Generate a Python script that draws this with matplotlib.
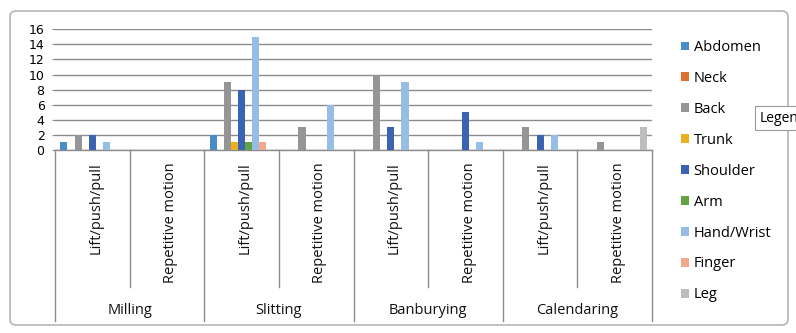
import numpy as np
import matplotlib
matplotlib.use('Agg')
import matplotlib.pyplot as plt
from matplotlib.patches import FancyBboxPatch
import matplotlib.transforms as mtransforms

plt.rcParams.update({'font.family': 'Open Sans', 'font.size': 10.5})

groups = ['Milling', 'Slitting', 'Banburying', 'Calendaring']
tasks = ['Lift/push/pull', 'Repetitive motion']

parts = ['Abdomen', 'Neck', 'Back', 'Trunk', 'Shoulder', 'Arm',
         'Hand/Wrist', 'Finger', 'Leg']
# one value per (group, task) in order: Milling L/R, Slitting L/R, Banbury L/R, Calend L/R
abdomen = [1, 0, 2, 0, 0, 0, 0, 0]
neck = [0, 0, 0, 0, 0, 0, 0, 0]
back = [2, 0, 9, 3, 10, 0, 3, 1]
trunk = [0, 0, 1, 0, 0, 0, 0, 0]
shoulder = [2, 0, 8, 0, 3, 5, 2, 0]
arm = [0, 0, 1, 0, 0, 0, 0, 0]
hand_wrist = [1, 0, 15, 6, 9, 1, 2, 0]
finger = [0, 0, 1, 0, 0, 0, 0, 0]
leg = [0, 0, 0, 0, 0, 0, 0, 3]
series = [abdomen, neck, back, trunk, shoulder, arm, hand_wrist, finger, leg]

colors = ['#4a8cc9', '#dd7230', '#959595', '#eab020', '#3a63b2',
          '#62a343', '#95bde6', '#f3a88c', '#bdbdbd']

fig = plt.figure(figsize=(7.96, 3.33), dpi=100)
ax = fig.add_axes([55/796, 1-150/333, (652-55)/796, (150-29.3)/333])

ncat = len(groups) * len(tasks)
x = np.arange(ncat)
w = 1 / 10.5
for j, (vals, c, name) in enumerate(zip(series, colors, parts)):
    ax.bar(x + (j - 4) * w, vals, width=w, color=c, lw=0, label=name, zorder=3)

ax.set_xlim(-0.5, ncat - 0.5)
ax.set_ylim(0, 16)
ax.set_yticks(range(0, 17, 2))
ax.yaxis.grid(True, color='#8c8c8c', lw=1.0, zorder=0)
for s in ['top', 'right', 'left']:
    ax.spines[s].set_visible(False)
ax.spines['bottom'].set_color('#8c8c8c')
ax.spines['bottom'].set_linewidth(1.0)
ax.tick_params(axis='y', length=2.5, color='#8c8c8c', pad=5)
for lbl in ax.get_yticklabels():
    lbl.set_fontfamily('DejaVu Sans')
    lbl.set_fontsize(9)
ax.set_xticks([])

# multi-level category axis
trans = mtransforms.blended_transform_factory(ax.transData, ax.transAxes)
ah = (150 - 29.3)
short_y = -(287 - 150) / ah
long_y = -(321 - 150) / ah
for b in range(ncat + 1):
    yb = long_y if b % 2 == 0 else short_y
    ax.plot([b - 0.5, b - 0.5], [0, yb], color='#8c8c8c', lw=1.0,
            transform=trans, clip_on=False)
for i in range(ncat):
    ax.text(i + 0.05, -12 / ah, tasks[i % 2], rotation=90, ha='center', va='top',
            transform=trans, color='#111111')
for g, name in enumerate(groups):
    ax.text(2 * g + 0.5, -(310 - 150) / ah, name, ha='center', va='center',
            transform=trans, color='#111111')

fig.legend(loc='upper left', bbox_to_anchor=(668/796, 1-27/333), frameon=False,
           handlelength=0.55, handleheight=0.55, handletextpad=0.3,
           labelspacing=1.09)

# chart frame
fig.patches.append(FancyBboxPatch((10/100, 8/100), 778/100, 314/100,
                                  boxstyle='round,pad=0,rounding_size=0.06',
                                  fc='none', ec='#b5b5b5', lw=1.2,
                                  transform=fig.dpi_scale_trans, zorder=0))
fig.text(760/796, 1-118/333, 'Legen', va='center', ha='left', fontsize=10,
         bbox=dict(boxstyle='square,pad=0.35', fc='white', ec='#9a9a9a', lw=0.8))

fig.savefig('out.png', dpi=100)
